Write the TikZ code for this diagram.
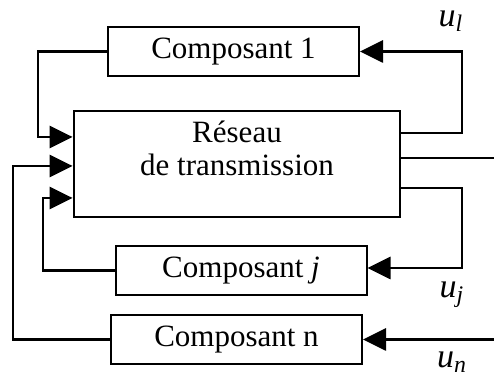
\documentclass[tikz,border=0pt]{standalone}
\usepackage{fontspec}
\setmainfont{Liberation Serif}
\usetikzlibrary{arrows.meta,calc}
\begin{document}
\begin{tikzpicture}[x=0.5pt,y=-0.5pt,
  comp/.style={draw,line width=1pt,minimum width=125.5pt,minimum height=24.5pt,inner sep=0pt,font=\fontsize{15.5}{18}\selectfont},
  net/.style={draw,line width=1.4pt,minimum width=163pt,minimum height=53pt,inner sep=0pt},
  wire/.style={line width=1.4pt},
  feed/.style={wire,-{Triangle[length=11.5pt,width=11pt]}},
  lbl/.style={inner sep=1pt,font=\fontsize{17}{20}\selectfont}]
\useasboundingbox (0,0) rectangle (494,378);

% blocks
\node[comp] (c1) at (233.5,51.5) {Composant 1};
\node[net] (res) at (237,164) {};
\node[align=center,font=\fontsize{15.5}{16.5}\selectfont] (restxt) at (237,148) {Réseau\\de transmission};
\node[comp] (cj) at (241,270.5) {Composant \textit{j}};
\node[comp] (cn) at (236.5,339.5) {Composant n};

% free ends and ports
\coordinate (o1) at (res.east |- 0,133);
\coordinate (o2) at (res.east |- 0,158);
\coordinate (o3) at (res.east |- 0,188);
\coordinate (i1) at (res.west |- 0,137);
\coordinate (i2) at (res.west |- 0,166);
\coordinate (i3) at (res.west |- 0,198);
\coordinate (out) at (494,158);
\coordinate (un) at (494,339.5);

% output feedbacks to the components
\draw[feed] (o1) -| (462,51.5) -- (c1.east);
\draw[wire] (o2) -- (out);
\draw[feed] (o3) -| (462,268) -- (cj.east |- 0,268);
\draw[feed] (un) -- (cn.east);

% component outputs back into the network
\draw[feed] (c1.west) -| (38,137) -- (i1);
\draw[feed] (cj.west) -| (43,198) -- (i3);
\draw[feed] (cn.west) -| (13,166) -- (i2);

% labels
\node[lbl] (l1) at (451,21) {\textit{u\textsubscript{l}}};
\node[lbl] (lj) at (452,295) {\textit{u\textsubscript{j}}};
\node[lbl] (ln) at (452,362) {\textit{u\textsubscript{n}}};
\end{tikzpicture}
\end{document}
